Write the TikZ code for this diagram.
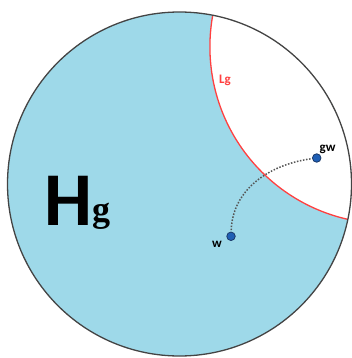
\documentclass[tikz,border=0pt]{standalone}
\usepackage{fontspec}
\setmainfont{Carlito}
\newfontfamily\gserif{Liberation Serif}
\definecolor{diskblue}{HTML}{9ED9E9}
\definecolor{geored}{HTML}{FF4040}
\definecolor{rimgray}{HTML}{444444}
\definecolor{pathgray}{HTML}{555555}
\definecolor{dotblue}{HTML}{1F5FB5}
\definecolor{dotedge}{HTML}{1A3A6A}
\tikzset{
  pt/.style={circle,fill=dotblue,draw=dotedge,line width=0.8pt,inner sep=0pt,minimum size=8.5pt},
  lbl/.style={inner sep=0pt,font=\bfseries\fontsize{13}{13}\selectfont},
}
\begin{document}
\begin{tikzpicture}[x=1pt,y=-1pt]
\useasboundingbox (0,0) rectangle (352,358);
\coordinate (O) at (179.5,184);
\coordinate (C) at (386.6,46.9);
% disk
\fill[diskblue] (O) circle[radius=172];
\begin{scope}
  \clip (O) circle[radius=172];
  \fill[white] (C) circle[radius=176.7];
  \draw[geored,line width=1.3pt] (C) circle[radius=176.7];
\end{scope}
\draw[rimgray,line width=1.3pt] (O) circle[radius=172];
% points
\node[pt] (w) at (231,236.3) {};
\node[pt] (gw) at (316.7,158) {};
\draw[pathgray,line width=1.5pt,dash pattern=on 1.5pt off 1.6pt,shorten <=1.5pt,shorten >=1.5pt] (w) to[out=88,in=188] (gw);
% labels
\node[lbl,anchor=base west,text=black] (wl) at (212,247) {w};
\node[lbl,anchor=base west,text=black] (gwl) at (319.5,151) {gw};
\node[lbl,anchor=base west,text=geored] (lg) at (219,83.5) {Lg};
\node[inner sep=0pt,anchor=base west,font=\bfseries\fontsize{76}{76}\selectfont] (H) at (44,225) {H};
\node[inner sep=0pt,anchor=base west,font=\gserif\bfseries\fontsize{36}{36}\selectfont] (g) at (92,221) {g};
\end{tikzpicture}
\end{document}
